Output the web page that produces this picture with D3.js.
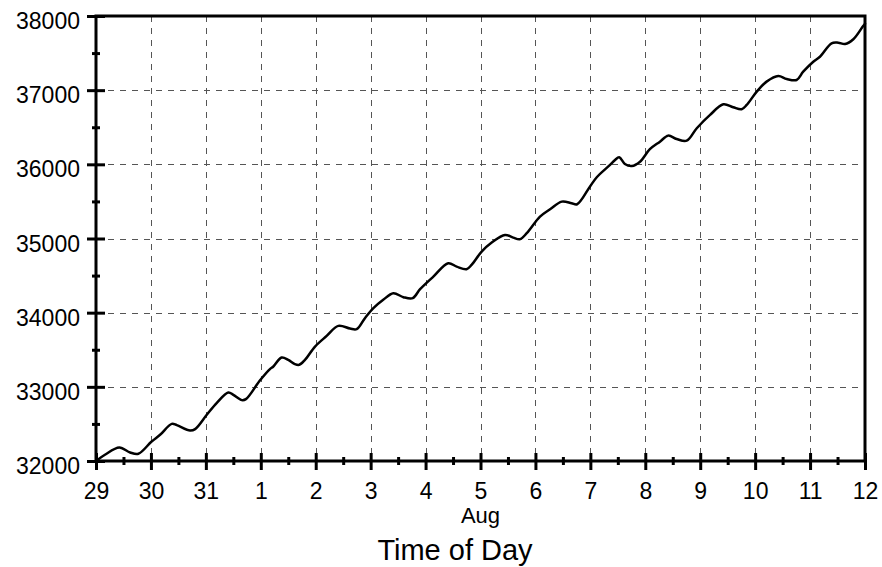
<!DOCTYPE html>
<html>
<head>
<meta charset="utf-8">
<script src="https://cdn.jsdelivr.net/npm/d3@7/dist/d3.min.js"></script>
<style>
  body { margin: 0; background: #fff; }
  svg { display: block; }
  text { font-family: "Liberation Sans", Arial, sans-serif; fill: #000; }
</style>
</head>
<body>
<svg id="chart" width="882" height="567"></svg>
<script>
// ---- data ----
const startDate = "2000-07-29T00:00:00";
const endDate = "2000-08-12T00:00:00";
const hoursSinceStart = [0, 3.9, 10.2, 14.9, 18.5, 24.3, 28.0, 33.1, 35.3, 41.1, 43.3, 48.4, 52.7, 57.8, 60.0, 63.7, 65.5, 71.6, 76.0, 77.5,
  81.1, 84.0, 86.9, 88.8, 91.3, 95.7, 100.8, 105.9, 111.0, 113.9, 117.5, 121.2, 125.5, 129.9, 134.3, 138.4, 141.6, 147.4, 153.9, 157.6,
  161.9, 164.1, 168.5, 172.9, 178.7, 182.3, 185.2, 188.2, 194.0, 198.4, 203.5, 207.8, 210.2, 215.8, 218.8, 224.6, 226.8, 228.6, 231.1, 234.1,
  237.7, 242.0, 246.4, 250.0, 253.7, 258.1, 262.5, 268.3, 274.1, 278.4, 282.1, 284.3, 288.7, 293.0, 298.1, 301.8, 306.1, 309.0, 313.4, 316.3,
  321.4, 324.3, 327.3, 330.9, 335.2, 336];
const values = [32000, 32084, 32182, 32115, 32097, 32263, 32353, 32501, 32484, 32411, 32430, 32623, 32780, 32923, 32892, 32821, 32834, 33085, 33239, 33274,
  33395, 33364, 33306, 33297, 33364, 33543, 33687, 33822, 33786, 33778, 33926, 34061, 34173, 34263, 34209, 34196, 34317, 34487, 34667, 34621,
  34586, 34644, 34823, 34945, 35048, 35012, 34991, 35071, 35295, 35395, 35497, 35476, 35462, 35699, 35826, 35992, 36059, 36096, 36005, 35978,
  36036, 36204, 36306, 36387, 36342, 36319, 36487, 36666, 36810, 36770, 36743, 36801, 36980, 37115, 37191, 37151, 37137, 37249, 37384, 37451,
  37632, 37640, 37623, 37686, 37865, 37895];
const yTicks = [32000, 33000, 34000, 35000, 36000, 37000, 38000];
const yMinorTicks = [32500, 33500, 34500, 35500, 36500, 37500];
const monthLabel = "Aug";
const xTitle = "Time of Day";

// ---- layout ----
const L = 96, R = 865, T = 16, B = 461;
const svg = d3.select("#chart");
const t0 = new Date(startDate), t1 = new Date(endDate);
const x = d3.scaleTime().domain([t0, t1]).range([L, R]);
const y = d3.scaleLinear().domain([32000, 38000]).range([B, T]);

const days = d3.timeDay.range(t0, d3.timeDay.offset(t1, 1));
const halfDays = d3.timeHour.every(12).range(t0, t1).filter(d => d.getHours() === 12);

// grid
const grid = svg.append("g").attr("stroke", "#555").attr("stroke-width", 1).attr("stroke-dasharray", "6,6").attr("fill", "none");
grid.selectAll("line.v").data(days.slice(1, -1)).join("line")
  .attr("x1", d => Math.round(x(d)) + 0.5).attr("x2", d => Math.round(x(d)) + 0.5)
  .attr("y1", T).attr("y2", B);
grid.selectAll("line.h").data(yTicks.slice(1, -1)).join("line")
  .attr("y1", d => Math.round(y(d)) + 0.5).attr("y2", d => Math.round(y(d)) + 0.5)
  .attr("x1", L).attr("x2", R);

// line
const data = hoursSinceStart.map((h, i) => ({ t: d3.timeMinute.offset(t0, Math.round(h * 60)), v: values[i] }));
svg.append("path").datum(data)
  .attr("fill", "none").attr("stroke", "#000").attr("stroke-width", 2.5)
  .attr("stroke-linejoin", "round").attr("stroke-linecap", "round")
  .attr("d", d3.line().x(d => x(d.t)).y(d => y(d.v)).curve(d3.curveCatmullRom.alpha(0.5)));

// frame
svg.append("rect").attr("x", L).attr("y", T).attr("width", R - L).attr("height", B - T)
  .attr("fill", "none").attr("stroke", "#000").attr("stroke-width", 3);

// y axis
const yAxis = d3.axisLeft(y).tickValues(yTicks).tickSize(9).tickPadding(8).tickFormat(d3.format("d"));
const gy = svg.append("g").attr("transform", `translate(${L},0)`).call(yAxis);
gy.select(".domain").remove();
gy.selectAll(".tick line").attr("stroke", "#000").attr("stroke-width", 3).attr("x2", -9).attr("x1", 9);
gy.selectAll(".tick text").attr("font-size", 23).attr("dy", "0.55em").attr("x", -16);
const yMinor = d3.axisLeft(y).tickValues(yMinorTicks).tickSize(4).tickFormat("");
const gym = svg.append("g").attr("transform", `translate(${L},0)`).call(yMinor);
gym.select(".domain").remove();
gym.selectAll(".tick line").attr("stroke", "#000").attr("stroke-width", 3).attr("x1", 4);

// x axis
const xAxis = d3.axisBottom(x).tickValues(days).tickSize(9).tickPadding(13).tickFormat(d3.timeFormat("%-d"));
const gx = svg.append("g").attr("transform", `translate(0,${B})`).call(xAxis);
gx.select(".domain").remove();
gx.selectAll(".tick line").attr("stroke", "#000").attr("stroke-width", 3).attr("y1", -8);
gx.selectAll(".tick text").attr("font-size", 23);
const xMinor = d3.axisBottom(x).tickValues(halfDays).tickSize(4).tickFormat("");
const gxm = svg.append("g").attr("transform", `translate(0,${B})`).call(xMinor);
gxm.select(".domain").remove();
gxm.selectAll(".tick line").attr("stroke", "#000").attr("stroke-width", 3).attr("y1", -4);

// labels
const aug = d3.timeDay.offset(t0, 7);
svg.append("text").attr("x", x(aug)).attr("y", 523).attr("text-anchor", "middle").attr("font-size", 22).text(monthLabel);
svg.append("text").attr("x", 455).attr("y", 560).attr("text-anchor", "middle").attr("font-size", 29).text(xTitle);
</script>
</body>
</html>
